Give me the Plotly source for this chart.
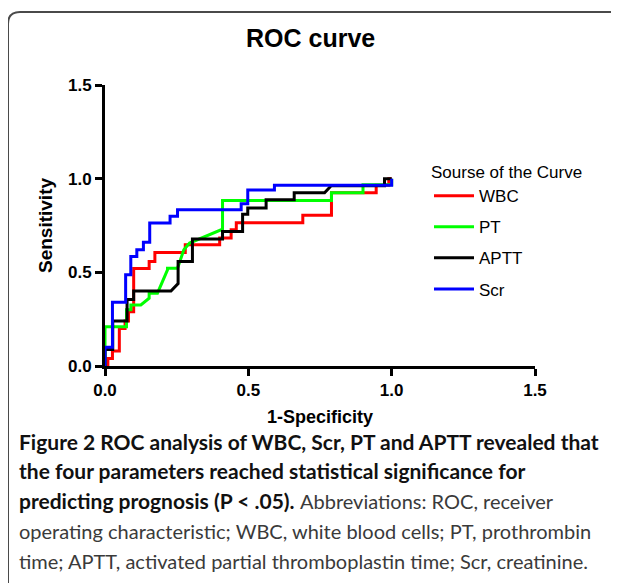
import plotly.graph_objects as go

# ---------------- data (ROC operating points) ----------------
wbc_fpr = [0, 0.01, 0.01, 0.026, 0.026, 0.05, 0.05, 0.07, 0.07, 0.082, 0.082, 0.10, 0.10, 0.154, 0.154,
           0.174, 0.174, 0.28, 0.28, 0.40, 0.40, 0.44, 0.44, 0.458, 0.458, 0.69, 0.69, 0.79, 0.79,
           0.946, 0.946, 0.99, 0.99, 1.0]
wbc_tpr = [0, 0, 0.04, 0.04, 0.08, 0.08, 0.20, 0.20, 0.24, 0.24, 0.29, 0.29, 0.52, 0.52, 0.558,
           0.558, 0.606, 0.606, 0.647, 0.647, 0.683, 0.683, 0.727, 0.727, 0.765, 0.765, 0.805, 0.805, 0.925,
           0.925, 0.965, 0.965, 1.0, 1.0]

pt_fpr = [0, 0, 0.075, 0.075, 0.09, 0.09, 0.125, 0.154, 0.154, 0.183, 0.218, 0.218, 0.253, 0.275,
          0.295, 0.41, 0.41, 0.79, 0.79, 0.90, 0.90, 1.0, 1.0]
pt_tpr = [0, 0.21, 0.21, 0.30, 0.30, 0.326, 0.326, 0.362, 0.389, 0.389, 0.513, 0.522, 0.522, 0.62,
          0.656, 0.73, 0.884, 0.884, 0.925, 0.925, 0.968, 0.968, 1.0]

aptt_fpr = [0, 0, 0.027, 0.027, 0.077, 0.077, 0.10, 0.10, 0.23, 0.255, 0.255, 0.305, 0.305, 0.41,
            0.41, 0.48, 0.48, 0.498, 0.498, 0.562, 0.562, 0.66, 0.66, 0.766, 0.789, 0.975, 0.975, 1.0]
aptt_tpr = [0, 0.088, 0.088, 0.24, 0.24, 0.355, 0.355, 0.40, 0.40, 0.44, 0.558, 0.558, 0.678, 0.678,
            0.718, 0.718, 0.81, 0.81, 0.843, 0.843, 0.888, 0.888, 0.925, 0.925, 0.962, 0.962, 1.0, 1.0]

scr_fpr = [0, 0, 0.026, 0.026, 0.072, 0.072, 0.09, 0.09, 0.111, 0.111, 0.134, 0.134, 0.156, 0.156,
           0.227, 0.227, 0.253, 0.253, 0.475, 0.475, 0.498, 0.498, 0.591, 0.591, 1.0, 1.0]
scr_tpr = [0, 0.10, 0.10, 0.34, 0.34, 0.487, 0.487, 0.585, 0.585, 0.62, 0.62, 0.66, 0.66, 0.763,
           0.763, 0.80, 0.80, 0.834, 0.834, 0.866, 0.866, 0.94, 0.94, 0.965, 0.965, 1.0]

series_names = ["WBC", "PT", "APTT", "Scr"]
series_colors = ["#ff0000", "#00ff00", "#000000", "#0000ff"]
series_x = [wbc_fpr, pt_fpr, aptt_fpr, scr_fpr]
series_y = [wbc_tpr, pt_tpr, aptt_tpr, scr_tpr]

x_ticks = [0.0, 0.5, 1.0, 1.5]
y_ticks = [0.0, 0.5, 1.0, 1.5]
tick_labels = ["0.0", "0.5", "1.0", "1.5"]

GRAY = "#3a3a3a"
caption_lines = [
    "<b>Figure 2 ROC analysis of WBC, Scr, PT and APTT revealed that</b>",
    "<b>the four parameters reached statistical significance for</b>",
    f"<b>predicting prognosis (P &lt; .05).</b> <span style='color:{GRAY};font-size:20px'>Abbreviations: ROC, receiver</span>",
    f"<span style='color:{GRAY};font-size:20px'>operating characteristic; WBC, white blood cells; PT, prothrombin</span>",
    f"<span style='color:{GRAY};font-size:20px'>time; APTT, activated partial thromboplastin time; Scr, creatinine.</span>",
]

# ---------------- layout geometry ----------------
# the page adds an 8px body margin, so the figure is drawn 8px smaller and offset
OFF = 8
W, H = 619 - OFF, 583 - OFF
ML, MR, MT, MB = 97, 84, 77, 217
PW, PH = W - ML - MR, H - MT - MB


def px(x):  # reference pixel x -> paper
    return (x - OFF - ML) / PW


def py(y):  # reference pixel y -> paper
    return (H - MB - (y - OFF)) / PH


fig = go.Figure()
for i, (name, col, xs, ys) in enumerate(zip(series_names, series_colors, series_x, series_y)):
    fig.add_trace(go.Scatter(x=xs, y=ys, mode="lines", name=name,
                             line=dict(color=col, width=3), legendgroup=f"g{i}",
                             cliponaxis=False))

ARIAL = "Arial, Liberation Sans, sans-serif"
axis_font = dict(family=ARIAL, size=17, color="black")

fig.update_xaxes(range=[0, 1.5], tickvals=x_ticks, ticktext=[f"<b>{t}</b>" for t in tick_labels],
                 showline=True, linecolor="black", linewidth=3, ticks="outside", ticklen=7,
                 tickwidth=3, tickcolor="black", showgrid=False, zeroline=False,
                 tickfont=axis_font,
                 title=dict(text="<b>1-Specificity</b>", font=dict(family=ARIAL, size=18, color="black"), standoff=11))
fig.update_yaxes(range=[0, 1.5], tickvals=y_ticks, ticktext=[f"<b>{t}</b>" for t in tick_labels],
                 showline=True, linecolor="black", linewidth=3, ticks="outside", ticklen=7,
                 tickwidth=3, tickcolor="black", showgrid=False, zeroline=False,
                 tickfont=axis_font,
                 title=dict(text="<b>Sensitivity</b>", font=dict(family=ARIAL, size=19, color="black"), standoff=11))

shapes = [
    dict(type="path", xref="paper", yref="paper",
         path=(f"M {px(8)},{py(600)} L {px(8)},{py(24)} Q {px(8)},{py(12)} {px(20)},{py(12)} "
               f"L {px(640)},{py(12)}"),
         line=dict(color="#4a4a4a", width=2), layer="below"),
]

annotations = []
line_y = [441, 470, 500, 531, 561]
for txt, yy in zip(caption_lines, line_y):
    annotations.append(dict(text=txt, xref="paper", yref="paper", x=px(17), y=py(yy),
                            xanchor="left", yanchor="middle", showarrow=False, align="left",
                            font=dict(family="Lato, Open Sans, sans-serif", size=21, color="#111111")))

fig.update_layout(
    width=W, height=H,
    margin=dict(l=ML, r=MR, t=MT, b=MB, pad=0),
    paper_bgcolor="white", plot_bgcolor="white",
    title=dict(text="<b>ROC curve</b>", x=px(318), xanchor="center", y=1 - (38 - OFF) / H, yanchor="middle",
               font=dict(family=ARIAL, size=25, color="black")),
    showlegend=True,
    legend=dict(x=px(429), y=py(156), xanchor="left", yanchor="top",
                title=dict(text="Sourse of the Curve", font=dict(family=ARIAL, size=17, color="black")),
                font=dict(family=ARIAL, size=17, color="black"),
                bgcolor="rgba(0,0,0,0)", tracegroupgap=6, itemwidth=40),
    shapes=shapes,
    annotations=annotations,
)

fig.write_html("out.html")
